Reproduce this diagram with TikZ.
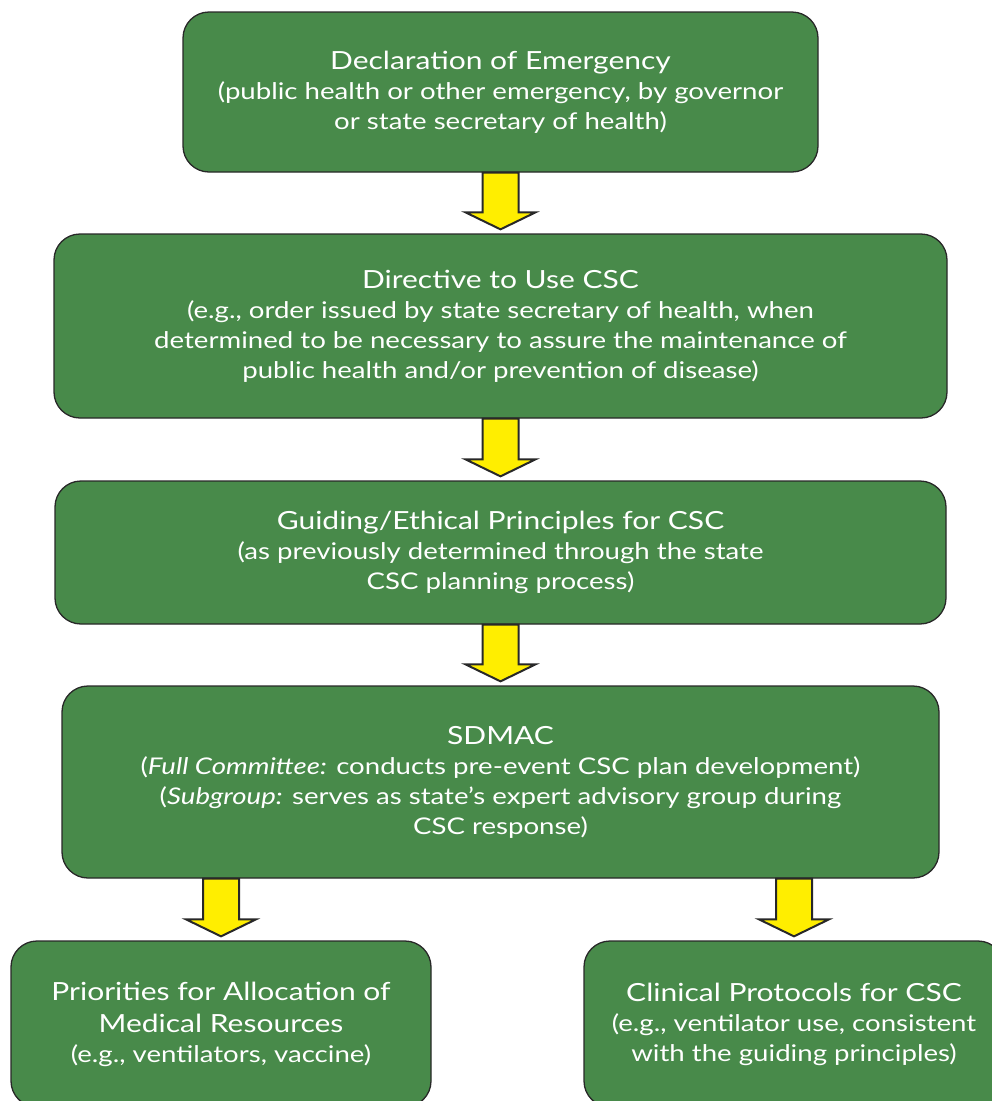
\documentclass[tikz,border=0pt]{standalone}
\usepackage{fontspec}
\setmainfont{Lato}[FakeStretch=1.2]
\usetikzlibrary{calc}
\definecolor{boxgreen}{RGB}{72,138,74}
\definecolor{arrowyellow}{RGB}{255,238,0}
\definecolor{edgegray}{RGB}{40,40,40}
\newcommand\ttl[1]{{\fontsize{25}{30}\selectfont #1}}
\tikzset{
  gbox/.style={draw=edgegray, line width=1.3pt, fill=boxgreen, rounded corners=26pt,
    text=white, align=center, inner sep=0pt, font=\fontsize{23}{30}\selectfont},
  fat/.style={draw=edgegray, line width=2pt, fill=arrowyellow, line join=miter},
}
\newcommand\fatarrow[3]{%
  \draw[fat] let \p1=(#2.south), \p2=(#3.north) in
    ({#1pt-18pt},\y1) -- ({#1pt+18pt},\y1) -- ({#1pt+18pt},\y2+21pt) --
    ({#1pt+35pt},\y2+21pt) -- ({#1pt},\y2+4pt) -- ({#1pt-35pt},\y2+21pt) --
    ({#1pt-18pt},\y2+21pt) -- cycle;}
\begin{document}
\begin{tikzpicture}[x=1pt,y=-1pt]
\useasboundingbox (0,0) rectangle (992,1101);
\node[gbox, minimum width=635pt, minimum height=160pt] (b1) at (500.5,92)
  {\ttl{Declaration of Emergency}\\(public health or other emergency, by governor\\or state secretary of health)};
\node[gbox, minimum width=893pt, minimum height=184pt] (b2) at (500.5,326)
  {\ttl{Directive to Use CSC}\\(e.g., order issued by state secretary of health, when\\determined to be necessary to assure the maintenance of\\public health and/or prevention of disease)};
\node[gbox, minimum width=891pt, minimum height=143pt] (b3) at (500.5,552.5)
  {\ttl{Guiding/Ethical Principles for CSC}\\(as previously determined through the state\\CSC planning process)};
\node[gbox, minimum width=877pt, minimum height=192pt] (b4) at (500.5,782)
  {\ttl{SDMAC}\\(\textit{Full Committee:} conducts pre-event CSC plan development)\\(\textit{Subgroup:} serves as state’s expert advisory group during\\CSC response)};
\node[gbox, minimum width=420pt, minimum height=166pt] (b5) at (221,1024)
  {\ttl{Priorities for Allocation of}\\[2pt]\ttl{Medical Resources}\\(e.g., ventilators, vaccine)};
\node[gbox, minimum width=420pt, minimum height=166pt] (b6) at (794,1024)
  {\ttl{Clinical Protocols for CSC}\\(e.g., ventilator use, consistent\\with the guiding principles)};
\fatarrow{500.5}{b1}{b2}
\fatarrow{500.5}{b2}{b3}
\fatarrow{500.5}{b3}{b4}
\fatarrow{221}{b4}{b5}
\fatarrow{794}{b4}{b6}
\end{tikzpicture}
\end{document}
